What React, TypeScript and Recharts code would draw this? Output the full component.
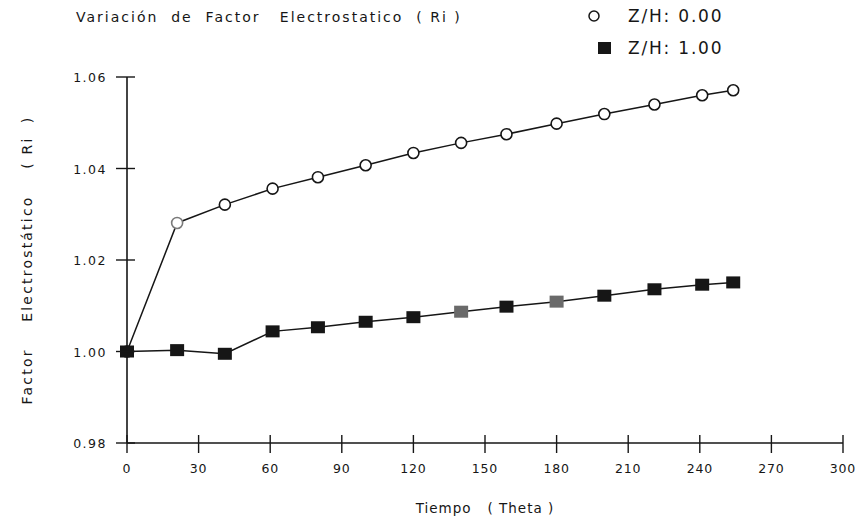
import React from 'react';
import { LineChart, Line, XAxis, YAxis, Legend, Label } from 'recharts';

// tiempo (theta) de cada medición
const tiempo = [0, 21, 41, 61, 80, 100, 120, 140, 159, 180, 200, 221, 241, 254];
// factor electrostático Ri para Z/H = 0.00 y Z/H = 1.00
const riZH000 = [1.0, 1.0281, 1.0321, 1.0356, 1.0381, 1.0407, 1.0434, 1.0456, 1.0475, 1.0498, 1.0519, 1.054, 1.056, 1.0571];
const riZH100 = [1.0, 1.0003, 0.9995, 1.0044, 1.0053, 1.0065, 1.0075, 1.0087, 1.0098, 1.0109, 1.0122, 1.0136, 1.0146, 1.0151];

const xTicks = [0, 30, 60, 90, 120, 150, 180, 210, 240, 270, 300];
const yTicks = [0.98, 1.0, 1.02, 1.04, 1.06];

const data = tiempo.map((t, i) => ({ t, a: riZH000[i], b: riZH100[i] }));

const INK = '#161616';
const FONT = '"DejaVu Sans", sans-serif';
const NB = '\u00A0';
// puntos que salieron más claros en el trazado
const fadedA = [1];
const fadedB = [7, 9];

const XTick = (props: any) => {
  const { x, y, payload } = props;
  return (
    <g>
      <line x1={x} x2={x} y1={y - 8} y2={y + 10} stroke={INK} strokeWidth={1.4} />
      <text x={x} y={y + 30} textAnchor="middle" fontSize={12.5} fill={INK} fontFamily={FONT} letterSpacing={0.8}>
        {payload.value}
      </text>
    </g>
  );
};

const YTick = (props: any) => {
  const { x, y, payload } = props;
  return (
    <g>
      <line x1={x - 11} x2={x + 8} y1={y} y2={y} stroke={INK} strokeWidth={1.4} />
      <text x={x - 20} y={y + 5} textAnchor="end" fontSize={12.5} fill={INK} fontFamily={FONT} letterSpacing={1.5}>
        {payload.value.toFixed(2)}
      </text>
    </g>
  );
};

const CircleDot = (props: any) => {
  const { cx, cy, index } = props;
  const c = fadedA.includes(index) ? '#7a7a7a' : INK;
  return <circle key={index} cx={cx} cy={cy} r={5.5} fill="#fff" stroke={c} strokeWidth={1.6} />;
};

const SquareDot = (props: any) => {
  const { cx, cy, index } = props;
  const c = fadedB.includes(index) ? '#6a6a6a' : INK;
  return <rect key={index} x={cx - 7} y={cy - 6} width={14} height={12} fill={c} />;
};

const LegendBox = () => (
  <div style={{ fontFamily: FONT, fontSize: 17, color: INK, letterSpacing: 1.8, lineHeight: '32px' }}>
    <div style={{ display: 'flex', alignItems: 'center' }}>
      <svg width={34} height={16}>
        <circle cx={14} cy={8} r={5} fill="#fff" stroke={INK} strokeWidth={1.5} />
      </svg>
      <span style={{ marginLeft: 14 }}>Z/H: 0.00</span>
    </div>
    <div style={{ display: 'flex', alignItems: 'center' }}>
      <svg width={34} height={16}>
        <rect x={18} y={2} width={13} height={12} fill={INK} />
      </svg>
      <span style={{ marginLeft: 14 }}>Z/H: 1.00</span>
    </div>
  </div>
);

export default function App() {
  return (
    <div style={{ position: 'absolute', left: 0, top: 0, width: 855, height: 521, background: '#fff' }}>
      <div
        style={{
          position: 'absolute',
          left: 76,
          top: 9,
          fontFamily: FONT,
          fontSize: 14,
          color: INK,
          letterSpacing: 2,
          whiteSpace: 'pre',
        }}
      >
        {'Variación  de  Factor   Electrostatico  ( Ri )'}
      </div>
      <LineChart
        width={855}
        height={521}
        data={data}
        margin={{ top: 77, right: 12, bottom: 38, left: 67 }}
      >
        <XAxis
          dataKey="t"
          type="number"
          domain={[0, 300]}
          ticks={xTicks}
          height={40}
          tickSize={0}
          tickMargin={0}
          tick={<XTick />}
          axisLine={{ stroke: INK, strokeWidth: 1.4 }}
          interval={0}
        >
          <Label
            value={`Tiempo${NB}${NB}${NB}(${NB}Theta${NB})`}
            position="insideBottom"
            offset={-30}
            style={{ fontFamily: FONT, fontSize: 13.5, fill: INK, letterSpacing: 1 }}
          />
        </XAxis>
        <YAxis
          type="number"
          domain={[0.98, 1.06]}
          ticks={yTicks}
          width={60}
          tickSize={0}
          tickMargin={0}
          tick={<YTick />}
          axisLine={{ stroke: INK, strokeWidth: 1.6 }}
          interval={0}
        >
          <Label
            value={`Factor${NB}${NB}${NB}${NB}Electrostático${NB}${NB}${NB}${NB}(${NB}Ri${NB}${NB})`}
            angle={-90}
            position="insideLeft"
            offset={-40}
            style={{ fontFamily: FONT, fontSize: 14, fill: INK, letterSpacing: 2.2, textAnchor: 'middle' }}
          />
        </YAxis>
        <Legend
          layout="horizontal"
          verticalAlign="middle"
          align="center"
          content={<LegendBox />}
          wrapperStyle={{ position: 'absolute', left: 580, top: 0, width: 220 }}
        />
        <Line
          dataKey="a"
          type="linear"
          stroke={INK}
          strokeWidth={1.5}
          dot={<CircleDot />}
          isAnimationActive={false}
        />
        <Line
          dataKey="b"
          type="linear"
          stroke={INK}
          strokeWidth={1.5}
          dot={<SquareDot />}
          isAnimationActive={false}
        />
      </LineChart>
    </div>
  );
}
